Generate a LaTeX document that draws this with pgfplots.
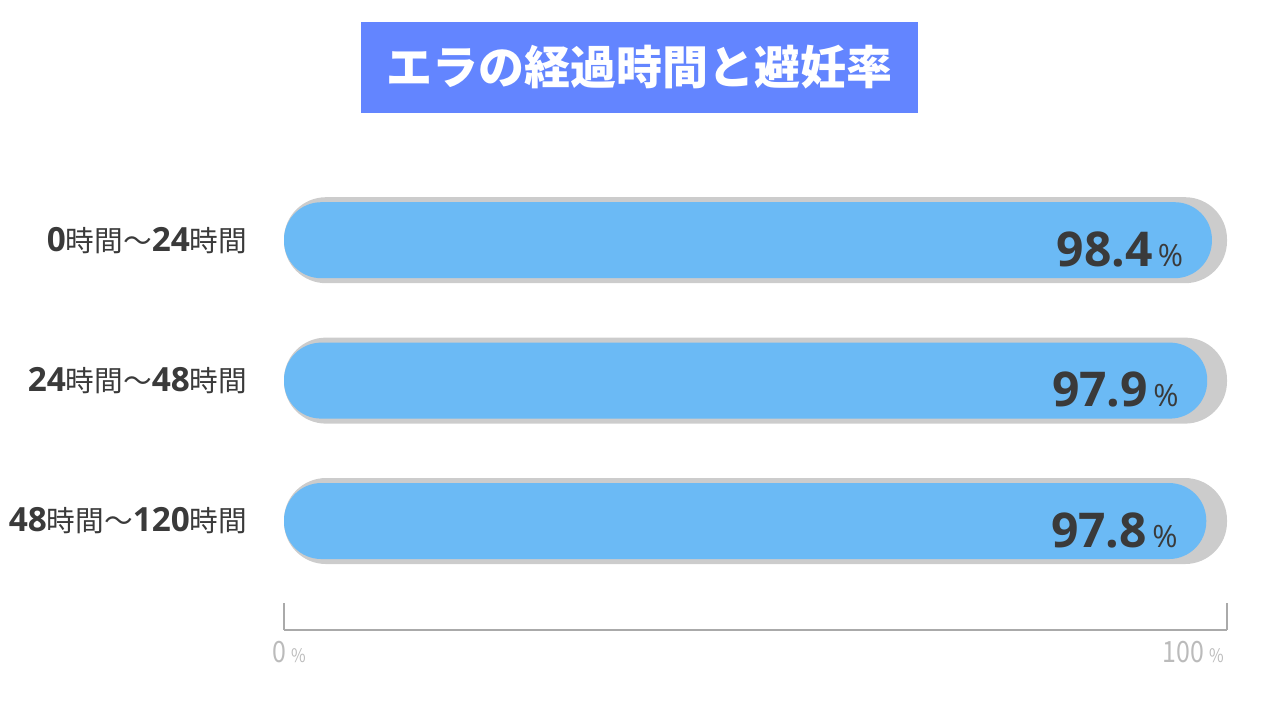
\documentclass[border=0pt]{standalone}
\usepackage{pgfplots}
\pgfplotsset{compat=1.18}
\usepackage{fontspec}
\setmainfont{Noto Sans CJK JP}
\newfontfamily\lat{Open Sans}
\definecolor{titlebg}{RGB}{99,133,255}
\definecolor{barblue}{RGB}{107,186,245}
\definecolor{track}{RGB}{204,204,204}
\definecolor{txt}{RGB}{58,58,58}
\definecolor{axgray}{RGB}{170,170,170}
\newcommand{\num}[1]{{\lat\bfseries\fontsize{25}{26}\selectfont #1}}
\begin{document}
\begin{tikzpicture}
% 1px = 0.75pt, picture 1280x720 px
\path[use as bounding box] (0pt,0pt) rectangle (960pt,540pt);
\node[fill=titlebg, minimum width=417.75pt, minimum height=68.25pt, inner sep=0pt,
  text=white, font=\bfseries\fontsize{34.5}{40}\selectfont] at (479.6pt,489.4pt) {エラの経過時間と避妊率};
\begin{axis}[
  at={(213pt,67.5pt)}, anchor=south west,
  scale only axis, width=707.25pt, height=345pt,
  xmin=0, xmax=100, ymin=-0.776, ymax=2.5,
  enlargelimits=false,
  axis x line=bottom, axis y line=left,
  x axis line style={axgray, line width=2.2pt, -},
  y axis line style={draw=none},
  xtick={100}, xticklabels={100\,{\fontsize{14}{16}\selectfont\%}},
  extra x ticks={0}, extra x tick labels={0\,{\fontsize{14}{16}\selectfont\%}},
  extra x tick style={grid=none, xticklabel style={anchor=north west, xshift=-13pt}},
  xticklabel style={anchor=north east, xshift=1pt, yshift=-5pt, text=axgray!80,
    font=\fontsize{22}{24}\selectfont\addfontfeature{FakeStretch=0.85}},
  tick align=inside, major tick length=20pt,
  x tick style={axgray, line width=2.2pt},
  y tick style={draw=none},
  ytick={0,1,2},
  yticklabels={\num{48}時間～\num{120}時間,
               \num{24}時間～\num{48}時間,
               \num{0}時間～\num{24}時間},
  yticklabel style={anchor=east, xshift=-24pt, text=txt, font=\fontsize{21.5}{24}\selectfont},
]
% grey track
\addplot[xbar, bar width=64.5pt, bar shift=0pt, fill=track, draw=none, rounded corners=31.5pt]
  coordinates {(100,2) (100,1) (100,0)};
% blue value bar
\addplot[xbar, bar width=57pt, bar shift=0pt, fill=barblue, draw=none, rounded corners=28pt,
  point meta=explicit symbolic,
  nodes near coords={\lat\fontsize{36}{40}\selectfont\bfseries\pgfplotspointmeta\mdseries\hspace{4pt}\fontsize{23}{24}\selectfont\%},
  nodes near coords align={anchor=east},
  every node near coord/.append style={text=txt, xshift=-18pt, yshift=-7pt}]
  coordinates {(98.4,2) [98.4] (97.9,1) [97.9] (97.8,0) [97.8]};
\end{axis}
\end{tikzpicture}
\end{document}
